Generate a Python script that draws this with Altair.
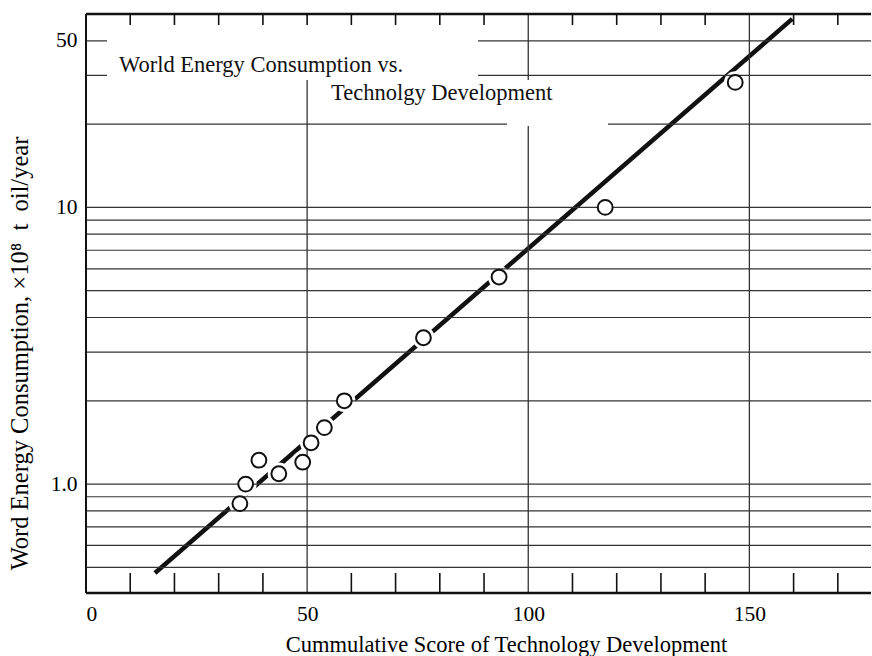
import altair as alt
import pandas as pd

# ---- data ----
score = [34.8, 36.1, 39.1, 43.6, 49.0, 50.9, 53.9, 58.4, 76.3, 93.4, 117.4, 146.8]
consumption = [0.85, 1.0, 1.22, 1.09, 1.20, 1.41, 1.60, 2.0, 3.38, 5.6, 10.0, 28.3]

fit_score = [15.6, 159.7]
fit_consumption = [0.477, 48.0]

grid_y = [0.5, 0.6, 0.7, 0.8, 0.9, 1, 2, 3, 4, 5, 6, 7, 8, 9, 10, 20, 30, 40]
grid_x = [50, 100, 150]
minor_bottom = [10, 20, 30, 40, 60, 70, 80, 90, 110, 120, 130, 140, 160, 170]
minor_top = [10, 20, 30, 40, 50, 60, 70, 80, 90, 110, 120, 130, 140, 160, 170]

x_tick_values = [0, 50, 100, 150]
y_tick_values = [1, 10, 40]
y_tick_labels = ["1.0", "10", "50"]

title_line1 = "World Energy Consumption vs."
title_line2 = "Technolgy Development"
x_title = "Cummulative Score of Technology Development"
y_title = "Word Energy Consumption, \u00d710\u2078\u00a0\u00a0t\u00a0\u00a0oil/year"

# ---- layout ----
W, H = 785, 579
FONT = "Liberation Serif"

xscale = alt.Scale(domain=[0, 177.5], nice=False, zero=False)
yscale = alt.Scale(type="log", domain=[0.404, 50], nice=False)

label_expr = " : ".join(
    f"datum.value == {v} ? '{l}'" for v, l in zip(y_tick_values, y_tick_labels)
) + " : ''"

xaxis = alt.Axis(values=x_tick_values, grid=False, ticks=False, domain=False,
                 labelFont=FONT, labelFontSize=21.5, labelColor="black", labelPadding=10,
                 titleFont=FONT, titleFontSize=22.5, titleFontWeight="normal",
                 titleColor="black", titleX=420, titleY=58,
                 titleBaseline="alphabetic", titleAlign="center")
yaxis = alt.Axis(values=y_tick_values, labelExpr=label_expr, grid=False, ticks=False,
                 domain=False, labelFont=FONT, labelFontSize=21.5, labelColor="black",
                 labelPadding=9, titleFont=FONT, titleFontSize=24.5,
                 titleFontWeight="normal", titleColor="black",
                 titleX=-66, titleY=339, titleBaseline="middle", titleAlign="center")


def X(field):
    return alt.X(f"{field}:Q", scale=xscale, axis=xaxis, title=x_title)


def Y(field):
    return alt.Y(f"{field}:Q", scale=yscale, axis=yaxis, title=y_title)


pts = pd.DataFrame({"score": score, "consumption": consumption})
fit = pd.DataFrame({"score": fit_score, "consumption": fit_consumption})
gy = pd.DataFrame({"consumption": grid_y})
gx = pd.DataFrame({"score": grid_x})
mb = pd.DataFrame({"score": minor_bottom})
mt = pd.DataFrame({"score": minor_top})
one = pd.DataFrame({"k": [0]})

fit_line = alt.Chart(fit).mark_line(color="#111111", strokeWidth=4.5).encode(
    x=X("score"), y=Y("consumption"))
halo = alt.Chart(pts).mark_circle(color="white", opacity=1, size=500).encode(
    x=X("score"), y=Y("consumption"))

hgrid = alt.Chart(gy).mark_rule(color="#333333", strokeWidth=1.2).encode(
    y=Y("consumption"), x=alt.value(0), x2=alt.value(W))
vgrid = alt.Chart(gx).mark_rule(color="#333333", strokeWidth=1.3).encode(
    x=X("score"), y=alt.value(0), y2=alt.value(H))

box1 = alt.Chart(one).mark_rect(color="white").encode(
    x=alt.value(21), x2=alt.value(392), y=alt.value(2), y2=alt.value(66))
box2 = alt.Chart(one).mark_rect(color="white").encode(
    x=alt.value(421), x2=alt.value(522), y=alt.value(66), y2=alt.value(112))

tick_b = alt.Chart(mb).mark_rule(color="#111111", strokeWidth=1.6).encode(
    x=X("score"), y=alt.value(H - 20), y2=alt.value(H))
tick_t = alt.Chart(mt).mark_rule(color="#111111", strokeWidth=1.6).encode(
    x=X("score"), y=alt.value(0), y2=alt.value(11))

circles = alt.Chart(pts).mark_point(shape="circle", filled=False, fill="white",
                                     fillOpacity=1, stroke="#111111", strokeWidth=2,
                                     size=220, opacity=1).encode(
    x=X("score"), y=Y("consumption"))

t1 = alt.Chart(one).mark_text(text=title_line1, font=FONT, fontSize=22.5, color="#111111",
                              align="left", baseline="alphabetic").encode(
    x=alt.value(33), y=alt.value(58))
t2 = alt.Chart(one).mark_text(text=title_line2, font=FONT, fontSize=22.5, color="#111111",
                              align="left", baseline="alphabetic").encode(
    x=alt.value(245), y=alt.value(86))

border_left = alt.Chart(one).mark_rule(color="#111111", strokeWidth=2).encode(
    x=alt.value(0), y=alt.value(0), y2=alt.value(H))
border_top = alt.Chart(one).mark_rule(color="#111111", strokeWidth=2.5).encode(
    y=alt.value(0), x=alt.value(0), x2=alt.value(W))
border_bottom = alt.Chart(one).mark_rule(color="#111111", strokeWidth=2.5).encode(
    y=alt.value(H), x=alt.value(0), x2=alt.value(W))

chart = alt.layer(
    fit_line, halo, hgrid, vgrid, box1, box2, tick_b, tick_t, circles, t1, t2,
    border_left, border_top, border_bottom
).properties(
    width=W, height=H,
    autosize=alt.AutoSizeParams(type="none"),
    padding={"left": 86, "top": 14, "right": 1, "bottom": 63},
    background="white",
).configure_view(stroke=None)

chart.save("out.html", embed_options={"renderer": "svg", "actions": False})
